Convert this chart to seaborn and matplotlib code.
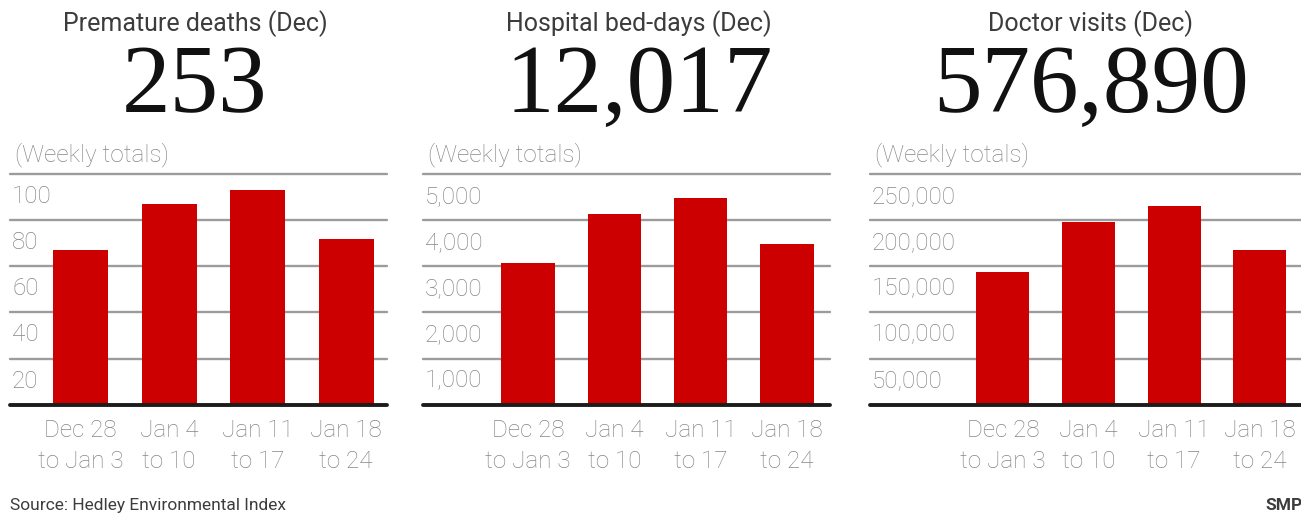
import matplotlib
matplotlib.use("Agg")
import matplotlib.pyplot as plt
import seaborn as sns
import pandas as pd

# ---- data -------------------------------------------------------------
weeks = ["Dec 28\nto Jan 3", "Jan 4\nto 10", "Jan 11\nto 17", "Jan 18\nto 24"]
titles = ["Premature deaths (Dec)", "Hospital bed-days (Dec)", "Doctor visits (Dec)"]
december_totals = ["253", "12,017", "576,890"]

premature_deaths = [67, 87, 93, 72]
hospital_bed_days = [3080, 4130, 4470, 3480]
doctor_visits = [143800, 198000, 215000, 167400]

tick_steps = [20, 1000, 50000]
tick_labels = [
    ["20", "40", "60", "80", "100"],
    ["1,000", "2,000", "3,000", "4,000", "5,000"],
    ["50,000", "100,000", "150,000", "200,000", "250,000"],
]
source_note = "Source: Hedley Environmental Index"
credit = "SMP"

# ---- style ------------------------------------------------------------
sns.set_style("white")
plt.rcParams["font.family"] = ["Roboto", "DejaVu Sans"]

RED = "#cc0000"
GRID = "#9c9c9c"
LABEL_GREY = "#868686"
DARK = "#3c3c3c"

W, H = 1301, 513
PX = 72 / 100  # points per pixel at 100 dpi

fig = plt.figure(figsize=(W / 100, H / 100), dpi=100)
fig.patch.set_facecolor("white")

base_y, top_y = 404.7, 174.0
# left px, right px, x-limits (in category units), header centre px
panels = [
    (10, 387, (-0.797, 3.46), 195),
    (423, 830, (-1.217, 3.50), 639),
    (870, 1301, (-1.55, 3.48), 1091),
]
series = [premature_deaths, hospital_bed_days, doctor_visits]

for (left, right, xlim, cx), values, step, labels, title, total in zip(
    panels, series, tick_steps, tick_labels, titles, december_totals
):
    ax = fig.add_axes([left / W, (H - base_y) / H, (right - left) / W, (base_y - top_y) / H])
    df = pd.DataFrame({"week": weeks, "value": values})
    sns.barplot(data=df, x="week", y="value", color=RED, saturation=1,
                width=0.62, edgecolor="none", ax=ax, zorder=2)
    ax.set_xlim(*xlim)
    ax.set_ylim(0, 5 * step)
    ax.set_axis_off()

    # horizontal rules behind the bars, heavy baseline in front
    for k in range(1, 6):
        ax.axhline(k * step, color=GRID, lw=1.7, zorder=1, clip_on=False)
    ax.axhline(0, color="#1c1c1c", lw=2.8, zorder=3, clip_on=False)

    # value labels hang just below their rule
    for k, lbl in enumerate(labels, start=1):
        ax.annotate(lbl, xy=(0, k * step), xycoords=("axes fraction", "data"),
                    xytext=(2 * PX, -29 * PX), textcoords="offset points",
                    ha="left", va="baseline", fontsize=17.5, color=LABEL_GREY,
                    fontweight="light")

    ax.annotate("(Weekly totals)", xy=(0, 1), xycoords="axes fraction",
                xytext=(5 * PX, 13 * PX), textcoords="offset points",
                ha="left", va="baseline", fontsize=17.5, color=LABEL_GREY,
                fontweight="light")

    # two-line week labels under each bar
    for i, wk in enumerate(weeks):
        first, second = wk.split("\n")
        for line, dy in ((first, 32), (second, 63)):
            ax.annotate(line, xy=(i, 0), xycoords=("data", "axes fraction"),
                        xytext=(0, -dy * PX), textcoords="offset points",
                        ha="center", va="baseline", fontsize=17.5,
                        color=LABEL_GREY, fontweight="light", annotation_clip=False)

    fig.text(cx / W, 1 - 31 / H, title, ha="center", va="baseline",
             fontsize=18, color=DARK)
    fig.text(cx / W, 1 - 112 / H, total, ha="center", va="baseline",
             fontsize=70, color="#111111", family=["Liberation Serif", "DejaVu Serif"])

fig.text(10 / W, 1 - 510 / H, source_note, ha="left", va="baseline",
         fontsize=12.5, color=DARK)
fig.text(1265 / W, 1 - 510 / H, credit, ha="left", va="baseline",
         fontsize=12.5, color=DARK, fontweight="bold")

fig.savefig("out.png", dpi=100, facecolor="white")
